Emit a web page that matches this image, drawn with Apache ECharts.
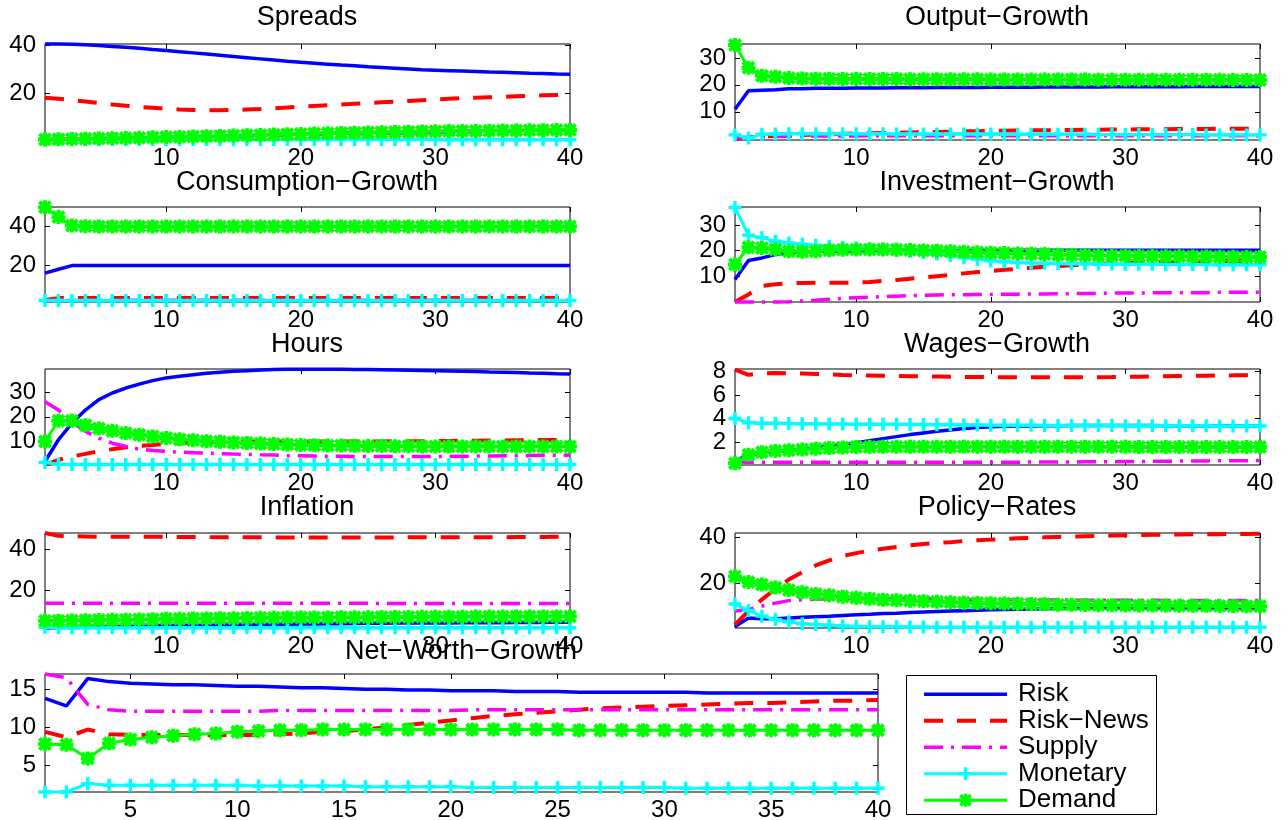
<!DOCTYPE html>
<html><head><meta charset="utf-8">
<script src="https://cdn.jsdelivr.net/npm/echarts@6/dist/echarts.min.js"></script>
<style>html,body{margin:0;padding:0;background:#fff}#chart{width:1287px;height:820px}</style>
</head><body><div id="chart"></div>
<script>
const periods = [1,2,3,4,5,6,7,8,9,10,11,12,13,14,15,16,17,18,19,20,21,22,23,24,25,26,27,28,29,30,31,32,33,34,35,36,37,38,39,40];
const seriesNames = ['Risk','Risk\u2212News','Supply','Monetary','Demand'];
const xTicks = [10,20,30,40];
const xTicksNW = [5,10,15,20,25,30,35,40];

// Spreads
const spreadsRisk = [40.6,40.6,40.5,40.3,40.0,39.6,39.2,38.8,38.3,37.9,37.4,36.9,36.4,35.9,35.4,34.9,34.4,33.9,33.4,33.0,32.6,32.2,31.8,31.5,31.1,30.8,30.5,30.2,29.9,29.7,29.5,29.3,29.1,28.9,28.8,28.6,28.4,28.3,28.1,28.0];
const spreadsNews = [18.2,17.8,17.2,16.6,16.0,15.4,14.9,14.4,14.0,13.6,13.3,13.1,13.0,13.0,13.1,13.3,13.5,13.8,14.1,14.5,14.8,15.1,15.4,15.7,16.0,16.3,16.6,16.9,17.2,17.5,17.8,18.0,18.2,18.4,18.6,18.8,19.0,19.2,19.4,19.6];
const spreadsSupply = [0.7,0.8,0.9,1.0,1.1,1.2,1.3,1.4,1.5,1.6,1.7,1.8,1.9,2.0,2.1,2.2,2.4,2.5,2.6,2.7,2.8,2.9,3.0,3.1,3.2,3.3,3.4,3.5,3.6,3.7,3.8,3.9,3.9,4.0,4.1,4.1,4.2,4.2,4.3,4.3];
const spreadsMonetary = [0.9,0.8,0.8,0.8,0.8,0.8,0.8,0.8,0.8,0.8,0.8,0.8,0.8,0.8,0.8,0.8,0.8,0.8,0.8,0.8,0.8,0.8,0.8,0.8,0.8,0.8,0.8,0.8,0.8,0.8,0.7,0.7,0.7,0.7,0.7,0.7,0.7,0.7,0.7,0.7];
const spreadsDemand = [0.8,0.9,1.0,1.1,1.2,1.3,1.4,1.5,1.7,1.8,1.9,2.1,2.2,2.3,2.5,2.6,2.7,2.9,3.0,3.1,3.3,3.4,3.5,3.6,3.7,3.8,3.9,4.0,4.1,4.2,4.3,4.4,4.4,4.5,4.6,4.6,4.7,4.7,4.8,4.8];
const spreadsTicks = [20,40];

// Output-Growth
const outputRisk = [10.9,17.8,18.0,18.2,18.6,18.6,18.7,18.7,18.7,18.8,18.8,18.8,18.9,18.9,18.9,19.0,19.0,19.0,19.0,19.1,19.1,19.1,19.1,19.2,19.2,19.2,19.2,19.2,19.3,19.3,19.3,19.3,19.3,19.3,19.4,19.4,19.4,19.4,19.4,19.4];
const outputNews = [-0.2,0.4,0.8,1.0,1.2,1.4,1.5,1.6,1.8,1.9,2.0,2.1,2.2,2.3,2.4,2.5,2.6,2.7,2.8,2.9,2.9,3.0,3.1,3.1,3.2,3.2,3.3,3.3,3.4,3.4,3.5,3.5,3.5,3.6,3.6,3.6,3.7,3.7,3.7,3.8];
const outputSupply = [0.2,0.5,0.7,0.8,0.9,0.9,1.0,1.0,1.0,1.0,1.1,1.1,1.1,1.1,1.1,1.1,1.1,1.1,1.1,1.1,1.1,1.1,1.1,1.1,1.1,1.1,1.1,1.1,1.1,1.1,1.1,1.1,1.1,1.1,1.1,1.1,1.1,1.1,1.1,1.1];
const outputMonetary = [1.4,0.2,1.6,1.7,1.8,1.8,1.8,1.8,1.8,1.8,1.8,1.8,1.7,1.7,1.7,1.7,1.7,1.7,1.7,1.7,1.6,1.6,1.6,1.6,1.6,1.6,1.6,1.5,1.5,1.5,1.5,1.5,1.5,1.5,1.5,1.4,1.4,1.4,1.4,1.4];
const outputDemand = [34.8,26.4,23.4,23.0,22.6,22.4,22.3,22.3,22.2,22.2,22.2,22.2,22.2,22.1,22.1,22.1,22.1,22.1,22.1,22.0,22.0,22.0,22.0,22.0,22.0,22.0,22.0,21.9,21.9,21.9,21.9,21.9,21.9,21.9,21.9,21.9,21.9,21.8,21.8,21.8];
const outputTicks = [10,20,30];

// Consumption-Growth
const consRisk = [15.8,17.8,19.7,19.7,19.7,19.7,19.7,19.7,19.7,19.7,19.7,19.7,19.7,19.7,19.7,19.7,19.7,19.7,19.7,19.7,19.7,19.7,19.7,19.7,19.7,19.7,19.7,19.7,19.7,19.7,19.7,19.7,19.7,19.7,19.7,19.7,19.7,19.7,19.7,19.8];
const consNews = [2.0,3.0,3.0,3.0,3.0,3.0,3.0,3.0,3.0,3.0,3.0,3.0,3.0,3.0,3.0,3.0,3.0,3.0,3.0,3.0,3.0,3.0,3.0,3.0,3.0,3.0,3.0,3.0,3.0,3.0,3.0,3.0,3.0,3.0,3.0,3.0,3.0,3.0,3.0,3.0];
const consSupply = [1.5,1.9,1.9,1.9,1.9,1.9,1.9,1.9,1.9,1.9,1.9,1.9,1.9,1.9,1.9,1.9,1.9,1.9,1.9,1.9,1.9,1.9,1.9,1.9,1.9,1.9,1.9,1.9,1.9,1.9,1.9,1.9,1.9,1.9,1.9,1.9,1.9,1.9,1.9,1.9];
const consMonetary = [1.8,1.8,1.8,1.8,1.8,1.8,1.8,1.8,1.8,1.8,1.8,1.8,1.8,1.8,1.8,1.8,1.8,1.8,1.8,1.8,1.8,1.8,1.8,1.8,1.8,1.8,1.8,1.8,1.8,1.8,1.8,1.8,1.8,1.8,1.8,1.8,1.8,1.8,1.8,1.8];
const consDemand = [49.7,44.6,40.3,39.9,39.8,39.8,39.8,39.8,39.8,39.8,39.8,39.8,39.8,39.8,39.8,39.8,39.8,39.8,39.8,39.8,39.8,39.8,39.8,39.8,39.8,39.8,39.8,39.8,39.8,39.8,39.8,39.8,39.8,39.8,39.8,39.8,39.8,39.8,39.8,39.8];
const consTicks = [20,40];

// Investment-Growth
const invRisk = [8.6,16.1,17.1,18.4,19.1,19.4,19.6,19.7,19.8,19.9,19.9,20.0,20.0,20.0,20.0,20.0,20.0,20.0,20.0,20.0,20.1,20.1,20.1,20.1,20.1,20.1,20.1,20.1,20.1,20.1,20.1,20.1,20.1,20.1,20.1,20.1,20.1,20.1,20.1,20.1];
const invNews = [-0.3,2.7,6.0,6.7,7.1,7.2,7.3,7.3,7.3,7.4,7.6,8.0,8.4,8.9,9.4,9.9,10.4,11.0,11.5,11.9,12.4,12.8,13.2,13.6,13.9,14.2,14.5,14.8,15.0,15.2,15.3,15.4,15.5,15.6,15.7,15.8,15.8,15.9,15.9,16.0];
const invSupply = [-0.3,-0.3,-0.3,-0.3,-0.2,0.1,0.4,0.8,1.1,1.4,1.6,1.8,2.0,2.2,2.4,2.5,2.6,2.6,2.7,2.7,2.8,2.8,2.9,2.9,3.0,3.0,3.1,3.1,3.2,3.3,3.3,3.3,3.4,3.4,3.4,3.4,3.5,3.5,3.5,3.5];
const invMonetary = [37.0,26.1,25.1,23.7,23.0,22.5,22.1,21.7,21.3,21.0,20.7,20.4,20.1,19.7,19.2,18.6,18.0,17.3,16.6,16.0,15.6,15.3,15.1,15.0,14.9,14.8,14.8,14.7,14.7,14.6,14.6,14.6,14.5,14.5,14.5,14.5,14.4,14.4,14.4,14.4];
const invDemand = [14.5,21.3,21.0,20.4,19.7,19.5,19.7,20.1,20.3,20.4,20.4,20.4,20.3,20.2,20.0,19.9,19.7,19.5,19.3,19.1,19.0,18.8,18.7,18.6,18.4,18.3,18.2,18.1,18.0,18.0,17.9,17.9,17.8,17.8,17.7,17.7,17.6,17.6,17.5,17.5];
const invTicks = [10,20,30];

// Hours
const hoursRisk = [1.9,10.7,17.4,22.7,26.9,29.6,31.6,33.2,34.6,35.7,36.4,37.0,37.6,38.0,38.4,38.6,38.9,39.1,39.2,39.2,39.2,39.2,39.2,39.1,39.1,39.0,38.9,38.8,38.7,38.6,38.5,38.4,38.3,38.1,38.0,37.9,37.7,37.6,37.4,37.3];
const hoursNews = [0.6,2.6,3.9,5.0,6.1,6.9,7.7,8.2,8.6,9.1,9.3,9.5,9.6,9.8,9.9,9.9,10.0,10.0,10.0,10.0,10.0,10.0,10.0,10.0,10.0,10.0,10.1,10.1,10.1,10.2,10.2,10.3,10.3,10.4,10.4,10.5,10.5,10.6,10.6,10.7];
const hoursSupply = [26.1,22.7,18.0,14.1,11.4,9.3,8.0,6.9,6.4,6.0,5.7,5.5,5.3,5.1,4.9,4.8,4.6,4.5,4.3,4.2,4.1,4.0,4.0,3.9,3.9,3.9,3.9,3.9,3.9,3.9,4.0,4.0,4.1,4.1,4.2,4.2,4.3,4.4,4.4,4.5];
const hoursMonetary = [1.5,0.8,0.7,0.7,0.7,0.7,0.7,0.7,0.7,0.7,0.7,0.7,0.7,0.7,0.7,0.7,0.7,0.7,0.7,0.7,0.7,0.7,0.7,0.7,0.7,0.7,0.7,0.7,0.7,0.7,0.7,0.7,0.7,0.7,0.7,0.7,0.7,0.7,0.7,0.7];
const hoursDemand = [10.0,18.4,18.4,16.6,15.3,14.3,13.4,12.7,12.0,11.4,10.9,10.5,10.1,9.9,9.6,9.4,9.2,9.0,8.8,8.6,8.5,8.4,8.4,8.3,8.2,8.2,8.1,8.1,8.0,8.0,8.0,8.0,8.0,8.0,8.0,8.0,8.0,8.0,8.0,8.0];
const hoursTicks = [10,20,30];

// Wages-Growth
const wagesRisk = [0.43,0.86,1.09,1.2,1.29,1.4,1.51,1.66,1.8,1.94,2.11,2.29,2.46,2.63,2.77,2.91,3.03,3.14,3.23,3.29,3.33,3.36,3.37,3.38,3.39,3.4,3.4,3.4,3.4,3.4,3.4,3.4,3.39,3.39,3.39,3.38,3.38,3.38,3.37,3.37];
const wagesNews = [8.15,7.71,7.83,7.86,7.83,7.81,7.78,7.74,7.7,7.67,7.65,7.63,7.61,7.59,7.57,7.56,7.54,7.53,7.52,7.51,7.5,7.5,7.49,7.49,7.49,7.49,7.5,7.51,7.52,7.54,7.55,7.57,7.58,7.6,7.62,7.63,7.65,7.66,7.68,7.69];
const wagesSupply = [0.30,0.28,0.28,0.28,0.28,0.28,0.28,0.28,0.28,0.28,0.28,0.28,0.28,0.28,0.28,0.28,0.28,0.28,0.28,0.28,0.29,0.29,0.30,0.30,0.31,0.31,0.32,0.32,0.33,0.34,0.35,0.36,0.37,0.38,0.39,0.40,0.41,0.42,0.42,0.43];
const wagesMonetary = [4.0,3.63,3.6,3.59,3.57,3.56,3.55,3.54,3.53,3.52,3.51,3.5,3.5,3.49,3.48,3.47,3.46,3.45,3.44,3.43,3.43,3.42,3.42,3.41,3.41,3.41,3.4,3.4,3.4,3.39,3.39,3.39,3.38,3.38,3.38,3.38,3.37,3.37,3.37,3.37];
const wagesDemand = [0.2,0.91,1.14,1.23,1.31,1.37,1.43,1.49,1.53,1.57,1.58,1.59,1.59,1.6,1.6,1.6,1.6,1.6,1.6,1.6,1.6,1.6,1.6,1.6,1.59,1.59,1.59,1.59,1.59,1.59,1.58,1.58,1.58,1.58,1.58,1.57,1.57,1.57,1.57,1.57];
const wagesTicks = [2,4,6,8];

// Inflation
const inflRisk = [1.5,1.7,1.8,1.9,2.0,2.1,2.3,2.4,2.5,2.7,2.8,2.9,2.9,3.0,3.1,3.2,3.3,3.3,3.4,3.5,3.5,3.6,3.6,3.7,3.8,3.8,3.9,3.9,4.0,4.0,4.0,4.1,4.1,4.1,4.1,4.2,4.2,4.2,4.3,4.3];
const inflNews = [48.1,46.7,46.5,46.4,46.3,46.3,46.3,46.2,46.2,46.2,46.1,46.1,46.1,46.0,46.0,46.0,46.0,45.9,45.9,45.9,45.9,45.9,45.9,45.9,45.9,45.9,45.9,46.0,46.0,46.0,46.0,46.0,46.0,46.0,46.0,46.1,46.1,46.1,46.2,46.2];
const inflSupply = [13.7,13.7,13.7,13.7,13.7,13.7,13.7,13.7,13.7,13.7,13.6,13.6,13.6,13.6,13.6,13.6,13.6,13.6,13.6,13.6,13.6,13.6,13.6,13.6,13.6,13.5,13.5,13.5,13.5,13.5,13.5,13.5,13.5,13.5,13.5,13.5,13.5,13.5,13.5,13.5];
const inflMonetary = [1.9,1.7,1.6,1.6,1.6,1.6,1.6,1.6,1.6,1.6,1.6,1.6,1.6,1.6,1.6,1.6,1.6,1.6,1.6,1.6,1.6,1.6,1.6,1.6,1.6,1.6,1.6,1.6,1.6,1.6,1.6,1.6,1.6,1.6,1.6,1.6,1.6,1.6,1.6,1.6];
const inflDemand = [5.0,5.1,5.2,5.3,5.4,5.5,5.6,5.7,5.8,6.0,6.0,6.1,6.2,6.3,6.3,6.4,6.5,6.5,6.6,6.7,6.7,6.7,6.8,6.8,6.8,6.9,6.9,6.9,7.0,7.0,7.0,7.0,7.1,7.1,7.1,7.1,7.1,7.2,7.2,7.2];
const inflTicks = [20,40];

// Policy-Rates
const polRisk = [1.0,4.7,4.4,4.4,4.7,5.0,5.2,5.4,5.8,6.1,6.3,6.6,6.8,7.1,7.3,7.5,7.7,7.9,8.1,8.3,8.4,8.5,8.6,8.7,8.8,8.8,8.9,8.9,8.9,8.9,9.0,9.0,9.0,9.0,9.1,9.1,9.1,9.1,9.1,9.1];
const polNews = [1.8,7.7,12.8,17.4,21.5,24.8,27.7,29.9,31.8,33.1,34.2,35.0,35.8,36.5,37.1,37.5,37.9,38.4,38.7,39.0,39.3,39.6,39.8,40.0,40.2,40.3,40.5,40.6,40.8,40.9,41.0,41.1,41.2,41.2,41.3,41.4,41.4,41.5,41.5,41.6];
const polSupply = [7.7,8.4,9.9,11.2,12.3,12.7,12.9,13.0,13.1,13.1,13.1,13.1,13.0,13.0,13.0,12.9,12.9,12.8,12.8,12.7,12.7,12.7,12.6,12.6,12.6,12.5,12.5,12.5,12.4,12.4,12.4,12.4,12.3,12.3,12.3,12.3,12.3,12.3,12.3,12.3];
const polMonetary = [10.8,8.0,5.5,4.0,3.0,2.2,1.8,1.5,1.2,1.0,0.9,0.9,0.8,0.7,0.7,0.6,0.6,0.6,0.6,0.6,0.6,0.6,0.6,0.6,0.6,0.6,0.6,0.6,0.6,0.6,0.6,0.6,0.6,0.6,0.6,0.6,0.6,0.6,0.6,0.6];
const polDemand = [22.9,20.4,19.3,18.0,16.9,16.0,15.2,14.6,14.0,13.5,13.1,12.7,12.5,12.2,12.0,11.8,11.6,11.4,11.3,11.1,11.0,10.9,10.8,10.7,10.5,10.5,10.4,10.3,10.3,10.2,10.2,10.1,10.1,10.0,10.0,10.0,9.9,9.9,9.8,9.8];
const polTicks = [20,40];

// Net-Worth-Growth
const nwRisk = [13.8,12.8,16.4,16.0,15.8,15.7,15.6,15.6,15.5,15.4,15.4,15.3,15.2,15.2,15.1,15.0,15.0,14.9,14.9,14.8,14.8,14.8,14.7,14.7,14.7,14.6,14.6,14.6,14.6,14.6,14.6,14.5,14.5,14.5,14.5,14.5,14.5,14.5,14.5,14.5];
const nwNews = [9.4,8.7,9.7,9.1,9.0,9.0,9.0,9.0,9.0,9.0,9.0,9.1,9.2,9.4,9.5,9.7,10.0,10.3,10.6,10.9,11.2,11.5,11.7,11.9,12.1,12.3,12.5,12.6,12.7,12.8,12.9,13.0,13.1,13.2,13.2,13.3,13.4,13.5,13.5,13.6];
const nwSupply = [17.0,16.5,13.0,12.3,12.1,12.1,12.1,12.1,12.1,12.1,12.1,12.2,12.2,12.2,12.2,12.2,12.2,12.2,12.2,12.2,12.3,12.3,12.3,12.3,12.3,12.3,12.3,12.3,12.3,12.3,12.3,12.3,12.3,12.3,12.3,12.3,12.3,12.3,12.3,12.3];
const nwMonetary = [1.5,1.5,2.6,2.4,2.4,2.4,2.4,2.4,2.4,2.4,2.3,2.3,2.3,2.3,2.3,2.2,2.2,2.2,2.2,2.2,2.1,2.1,2.1,2.1,2.1,2.1,2.1,2.1,2.1,2.1,2.0,2.0,2.0,2.0,2.0,2.0,2.0,2.0,2.0,2.0];
const nwDemand = [7.8,7.7,5.9,7.9,8.4,8.7,8.9,9.1,9.2,9.4,9.5,9.6,9.6,9.7,9.7,9.7,9.7,9.7,9.7,9.7,9.7,9.7,9.7,9.7,9.7,9.6,9.6,9.6,9.6,9.6,9.6,9.6,9.6,9.6,9.6,9.6,9.6,9.6,9.6,9.6];
const nwTicks = [5,10,15];

const FONT = '"Liberation Sans", Arial, Helvetica, sans-serif';
const PLUS = 'path://M4.4,0 L7.6,0 L7.6,4.4 L12,4.4 L12,7.6 L7.6,7.6 L7.6,12 L4.4,12 L4.4,7.6 L0,7.6 L0,4.4 L4.4,4.4 Z';
const STAR = 'path://M4.3,0 L7.7,0 L7.7,4.3 L12,4.3 L12,7.7 L7.7,7.7 L7.7,12 L4.3,12 L4.3,7.7 L0,7.7 L0,4.3 L4.3,4.3 Z M0,2.4 L2.4,0 L12,9.6 L9.6,12 Z M9.6,0 L12,2.4 L2.4,12 L0,9.6 Z';

const styles = [
  {color:'#0000FF', width:3.5, type:'solid', symbol:'none', size:0},
  {color:'#FF0000', width:4, type:[19,14], symbol:'none', size:0},
  {color:'#FF00FF', width:3.5, type:[19,8,3,8], symbol:'none', size:0},
  {color:'#00FFFF', width:3, type:'solid', symbol:PLUS, size:13},
  {color:'#00FF00', width:3, type:'solid', symbol:STAR, size:14}
];

const panels = [
  {title:'Spreads', box:[45,44,525,96], y:[0.6,40.6], yt:spreadsTicks, xt:xTicks, t:[307,18], d:[spreadsRisk,spreadsNews,spreadsSupply,spreadsMonetary,spreadsDemand]},
  {title:'Output\u2212Growth', box:[735,44,525,96], y:[-0.5,35.2], yt:outputTicks, xt:xTicks, t:[997,18], d:[outputRisk,outputNews,outputSupply,outputMonetary,outputDemand]},
  {title:'Consumption\u2212Growth', box:[45,207,525,95], y:[1.0,49.8], yt:consTicks, xt:xTicks, t:[307,183], d:[consRisk,consNews,consSupply,consMonetary,consDemand]},
  {title:'Investment\u2212Growth', box:[735,207,525,95], y:[-0.3,37.2], yt:invTicks, xt:xTicks, t:[997,183], d:[invRisk,invNews,invSupply,invMonetary,invDemand]},
  {title:'Hours', box:[45,369,525,96], y:[0.5,39.3], yt:hoursTicks, xt:xTicks, t:[307,345], d:[hoursRisk,hoursNews,hoursSupply,hoursMonetary,hoursDemand]},
  {title:'Wages\u2212Growth', box:[735,369,525,96], y:[0.05,8.2], yt:wagesTicks, xt:xTicks, t:[997,345], d:[wagesRisk,wagesNews,wagesSupply,wagesMonetary,wagesDemand]},
  {title:'Inflation', box:[45,533,525,95], y:[1.5,48.1], yt:inflTicks, xt:xTicks, t:[307,508], d:[inflRisk,inflNews,inflSupply,inflMonetary,inflDemand]},
  {title:'Policy\u2212Rates', box:[735,533,525,95], y:[0.3,41.9], yt:polTicks, xt:xTicks, t:[997,508], d:[polRisk,polNews,polSupply,polMonetary,polDemand]},
  {title:'Net\u2212Worth\u2212Growth', box:[45,674,833,118], y:[1.5,17.0], yt:nwTicks, xt:xTicksNW, t:[461,652], d:[nwRisk,nwNews,nwSupply,nwMonetary,nwDemand]}
];

const labelStyle = {color:'#000', fontFamily:FONT, fontSize:24, lineHeight:18, showMinLabel:true, showMaxLabel:true, hideOverlap:false};
const grid = [], xAxis = [], yAxis = [], series = [], graphic = [];
graphic.push({type:'rect', z:1, shape:{x:906.5, y:675.5, width:250, height:139}, style:{fill:'#fff', stroke:'#000', lineWidth:1}});
panels.forEach((p, i) => {
  grid.push({left:p.box[0], top:p.box[1], width:p.box[2], height:p.box[3], show:true, borderColor:'#000', borderWidth:1, backgroundColor:'rgba(0,0,0,0)', containLabel:false, outerBoundsMode:'none'});
  ['bottom','top'].forEach(pos => xAxis.push({
    type:'value', gridIndex:i, position:pos, min:1, max:40,
    axisLine:{show:false, onZero:false}, splitLine:{show:false},
    axisTick:{show:true, inside:true, length:5, lineStyle:{color:'#000', width:1}, customValues:p.xt},
    axisLabel:Object.assign({show:pos==='bottom', customValues:p.xt, margin:9}, labelStyle)
  }));
  // y labels split over two overlapping left axes so neighbouring labels never collide
  const evenTicks = p.yt.filter((v, k) => k % 2 === 0);
  const oddTicks = p.yt.filter((v, k) => k % 2 === 1);
  const yBase = {type:'value', gridIndex:i, min:p.y[0], max:p.y[1], axisLine:{show:false, onZero:false}, splitLine:{show:false}};
  yAxis.push(Object.assign({}, yBase, {position:'left',
    axisTick:{show:true, inside:true, length:5, lineStyle:{color:'#000', width:1}, customValues:p.yt},
    axisLabel:Object.assign({show:true, customValues:evenTicks, margin:9}, labelStyle)}));
  yAxis.push(Object.assign({}, yBase, {position:'right',
    axisTick:{show:true, inside:true, length:5, lineStyle:{color:'#000', width:1}, customValues:p.yt},
    axisLabel:{show:false, customValues:p.yt}}));
  yAxis.push(Object.assign({}, yBase, {position:'left', offset:0,
    axisTick:{show:false},
    axisLabel:oddTicks.length ? Object.assign({show:true, customValues:oddTicks, margin:9}, labelStyle) : {show:false}}));
  p.d.forEach((arr, j) => {
    const st = styles[j];
    series.push({
      type:'line', name:seriesNames[j], xAxisIndex:2*i, yAxisIndex:3*i,
      data: periods.map((t, k) => [t, arr[k]]),
      symbol: st.symbol, symbolSize: st.size, showSymbol: st.symbol !== 'none', showAllSymbol:true,
      clip:false, silent:true, emphasis:{disabled:true},
      lineStyle:{color:st.color, width:st.width, type:st.type, cap:'butt'},
      itemStyle:{color:st.color, borderWidth:0}
    });
  });
  graphic.push({type:'text', z:10, x:p.t[0], y:p.t[1], style:{text:p.title, fontFamily:FONT, fontSize:27, fill:'#000', align:'center', verticalAlign:'middle'}});
});

const legendData = seriesNames.map((n, j) => styles[j].symbol === 'none'
  ? {name:n, itemStyle:{opacity:0}}
  : {name:n});

const chart = echarts.init(document.getElementById('chart'));
chart.setOption({
  animation:false,
  backgroundColor:'#fff',
  grid, xAxis, yAxis, series, graphic,
  legend:{
    orient:'vertical', left:922, top:681, padding:0, itemGap:0, itemWidth:83, itemHeight:16,
    selectedMode:false, data:legendData, z:5,
    lineStyle:{width:'inherit'},
    textStyle:{fontFamily:FONT, fontSize:26, color:'#000', lineHeight:26.5, padding:[0,0,0,6]}
  }
});
</script></body></html>
